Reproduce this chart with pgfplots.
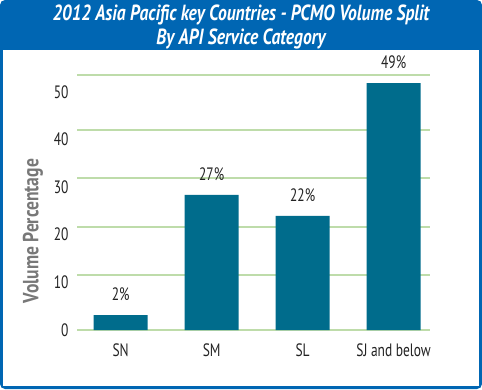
\documentclass[border=0pt]{standalone}
\usepackage{fontspec}
\setmainfont{PT Sans}[FakeStretch=0.75]
\newfontfamily\titlefont{PT Sans}[FakeStretch=0.8]
\usepackage{pgfplots}
\pgfplotsset{compat=1.18}
\definecolor{framebl}{RGB}{0,102,179}
\definecolor{barc}{RGB}{0,108,140}
\definecolor{gridc}{RGB}{190,220,170}
\definecolor{txt}{RGB}{35,35,35}
\definecolor{ylab}{RGB}{120,120,120}
\begin{document}
\begin{tikzpicture}[x=1bp,y=1bp]
\fill[framebl, rounded corners=5bp] (0,0) rectangle (482,389);
\fill[white] (3,3) rectangle (479,339);
\node[white, font=\titlefont\fontsize{22}{25}\selectfont\bfseries\itshape, align=center] at (241,362) {2012 Asia Pacific key Countries - PCMO Volume Split\\By API Service Category};
\begin{axis}[
  at={(77bp,59bp)}, anchor=south west,
  scale only axis, width=353bp, height=255bp,
  xmin=-0.48, xmax=3.4, ymin=0, ymax=50,
  axis line style={draw=none},
  major tick length=0pt,
  ytick={0,9.4,18.8,28.0,37.5,46.7},
  yticklabels={0,10,20,30,40,50},
  extra y ticks={0,10.8,20.2,29.8,39.2,50},
  extra y tick labels={},
  extra y tick style={grid=major, major grid style={gridc, line width=1.5pt}},
  xtick={0,1,2,3},
  xticklabels={SN,SM,SL,SJ and below},
  /pgf/number format/assume math mode=true,
  tick label style={text=txt, font=\fontsize{18}{21}\selectfont},
  yticklabel style={xshift=-5bp},
  xticklabel style={yshift=-10bp},
  ylabel={Volume Percentage},
  every axis y label/.style={at={(axis description cs:-0.125,0.388)}, rotate=90, anchor=center, font=\titlefont\fontsize{22}{26}\selectfont\bfseries, text=ylab},
  clip=false,
  point meta=explicit,
  nodes near coords={\pgfmathprintnumber{\pgfplotspointmeta}\%},
  every node near coord/.append style={text=txt, font=\fontsize{18}{21}\selectfont, yshift=11bp},
]
\addplot[ybar, bar width=54bp, bar shift=0pt, fill=barc, draw=none] coordinates {
  (0,2.9) [2]
  (1,26.5) [27]
  (2,22.4) [22]
  (3,48.4) [49]
};
\end{axis}
\end{tikzpicture}
\end{document}
